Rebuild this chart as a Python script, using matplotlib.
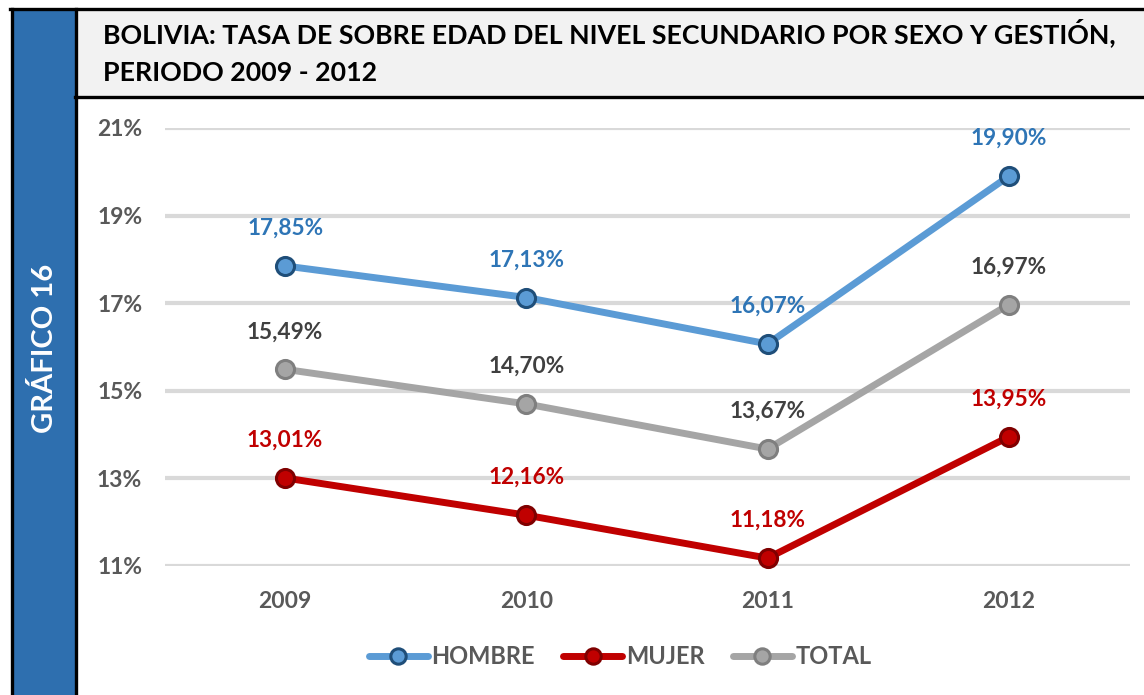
import matplotlib
matplotlib.use("Agg")
import matplotlib.pyplot as plt
from matplotlib.patches import Rectangle
from matplotlib.lines import Line2D

plt.rcParams['font.family'] = ['Lato', 'DejaVu Sans']

# datos
years = ["2009", "2010", "2011", "2012"]
hombre = [17.85, 17.13, 16.07, 19.90]
mujer = [13.01, 12.16, 11.18, 13.95]
total = [15.49, 14.70, 13.67, 16.97]
y_ticks = [11, 13, 15, 17, 19, 21]

W, H = 1144, 695
fig = plt.figure(figsize=(W / 100, H / 100), dpi=100)
fig.patch.set_facecolor("white")

def fx(px):
    return px / W

def fy(py):
    return 1 - py / H

# barra lateral azul y marcos
fig.add_artist(Rectangle((fx(13), 0), fx(62), fy(9), transform=fig.transFigure,
                         facecolor="#2E6FAF", edgecolor="none", zorder=1))
fig.add_artist(Rectangle((fx(77), fy(97)), fx(W - 77), fy(9) - fy(97), transform=fig.transFigure,
                         facecolor="#F2F2F2", edgecolor="none", zorder=1))
for x0 in (11.5, 75.5):
    fig.add_artist(Line2D([fx(x0), fx(x0)], [0, fy(8.5)], transform=fig.transFigure,
                          color="black", lw=2.4, zorder=3))
fig.add_artist(Line2D([fx(10), 1], [fy(9), fy(9)], transform=fig.transFigure,
                      color="black", lw=2.4, zorder=3))
fig.add_artist(Line2D([fx(75), 1], [fy(97), fy(97)], transform=fig.transFigure,
                      color="black", lw=2.4, zorder=3))

fig.text(fx(45), fy(348), "GRÁFICO 16", rotation=90, color="white", fontsize=21,
         fontweight="bold", ha="center", va="center")
fig.text(fx(103), fy(33), "BOLIVIA: TASA DE SOBRE EDAD DEL NIVEL SECUNDARIO POR SEXO Y GESTIÓN,",
         fontsize=19.3, fontweight="bold", color="black", ha="left", va="center")
fig.text(fx(103), fy(73), "PERIODO 2009 - 2012",
         fontsize=19.3, fontweight="bold", color="black", ha="left", va="center")

# área del gráfico
ax = fig.add_axes([fx(164.5), fy(566), fx(1129.5) - fx(164.5), fy(128) - fy(566)])
ax.set_xlim(-0.5, 3.5)
ax.set_ylim(11, 21)
ax.set_yticks(y_ticks)
ax.set_yticklabels([f"{t}%" for t in y_ticks])
ax.set_xticks(range(len(years)))
ax.set_xticklabels(years)
ax.tick_params(length=0, labelsize=16.5, labelcolor="#595959")
ax.tick_params(axis="y", pad=16)
ax.tick_params(axis="x", pad=18)
for lab in ax.get_xticklabels() + ax.get_yticklabels():
    lab.set_fontweight("bold")
ax.grid(axis="y", color="#D9D9D9", lw=3)
ax.set_axisbelow(True)
for s in ax.spines.values():
    s.set_visible(False)
ax.patch.set_alpha(0)

series = [
    ("HOMBRE", hombre, "#5B9BD5", "#1F4E79", "#2E75B6"),
    ("MUJER", mujer, "#C00000", "#7F0000", "#C00000"),
    ("TOTAL", total, "#A5A5A5", "#7F7F7F", "#404040"),
]
x = list(range(len(years)))
for name, vals, col, edge, lab_col in series:
    ax.plot(x, vals, color=col, lw=5, marker="o", markersize=13,
            markerfacecolor=col, markeredgecolor=edge, markeredgewidth=2.2,
            label=name, clip_on=False, solid_capstyle="round")
    for xi, v in zip(x, vals):
        ax.annotate(f"{v:.2f}%".replace(".", ","), (xi, v), xytext=(0, 27),
                    textcoords="offset points", ha="center", va="center",
                    fontsize=16.3, fontweight="bold", color=lab_col)

leg = fig.legend(loc="center", bbox_to_anchor=(fx(620), fy(657)), ncol=3, frameon=False,
                 fontsize=17, handlelength=2.5, columnspacing=1.2, handletextpad=0.15,
                 markerscale=0.85)
for t in leg.get_texts():
    t.set_color("#595959")
    t.set_fontweight("bold")

fig.savefig("out.png", dpi=100)
